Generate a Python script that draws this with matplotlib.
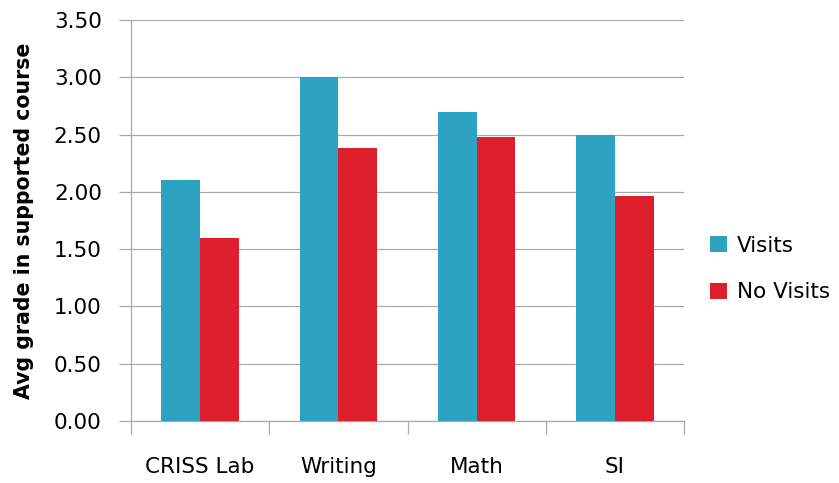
import matplotlib
matplotlib.use("Agg")
import matplotlib.pyplot as plt
import numpy as np

categories = ["CRISS Lab", "Writing", "Math", "SI"]
visits = [2.10, 3.00, 2.70, 2.50]
no_visits = [1.60, 2.38, 2.48, 1.96]
series_names = ["Visits", "No Visits"]
yticks = [0.0, 0.5, 1.0, 1.5, 2.0, 2.5, 3.0, 3.5]

plt.rcParams['font.family'] = ['DejaVu Sans']
fig = plt.figure(figsize=(8.39, 4.83), dpi=100)
ax = fig.add_axes([131/839, 1-421/483, (684-131)/839, (421-20)/483])

x = np.arange(len(categories))
w = 0.28
teal = "#2CA4C1"
red = "#DC1F2A"
ax.bar(x - w/2, visits, w, color=teal, label=series_names[0], zorder=3)
ax.bar(x + w/2, no_visits, w, color=red, label=series_names[1], zorder=3)

ax.set_xlim(-0.5, len(categories) - 0.5)
ax.set_ylim(0, 3.5)
ax.set_yticks(yticks)
ax.set_yticklabels([f"{v:.2f}" for v in yticks], fontsize=15.5)
ax.yaxis.grid(True, color="#AAAAAA", linewidth=0.9, zorder=0)
ax.tick_params(axis='y', length=9, color="#AAAAAA", width=0.9, pad=12)

ax.set_xticks(x)
ax.set_xticklabels(categories, fontsize=15.5)
ax.set_xticks(np.arange(-0.5, len(categories), 1.0), minor=True)
ax.tick_params(axis='x', which='major', length=0, pad=26)
ax.tick_params(axis='x', which='minor', length=9, color="#AAAAAA", width=0.9)

for s in ["top", "right"]:
    ax.spines[s].set_visible(False)
for s in ["left", "bottom"]:
    ax.spines[s].set_color("#AAAAAA")
    ax.spines[s].set_linewidth(0.9)

ax.set_ylabel("Avg grade in supported course", fontsize=14.8, fontweight="bold", labelpad=14)

ax.legend(loc="center left", bbox_to_anchor=(1.012, 0.379), frameon=False,
          fontsize=15.5, handlelength=0.8, handleheight=0.8, handletextpad=0.45,
          labelspacing=1.25)

fig.savefig("out.png", dpi=100)
